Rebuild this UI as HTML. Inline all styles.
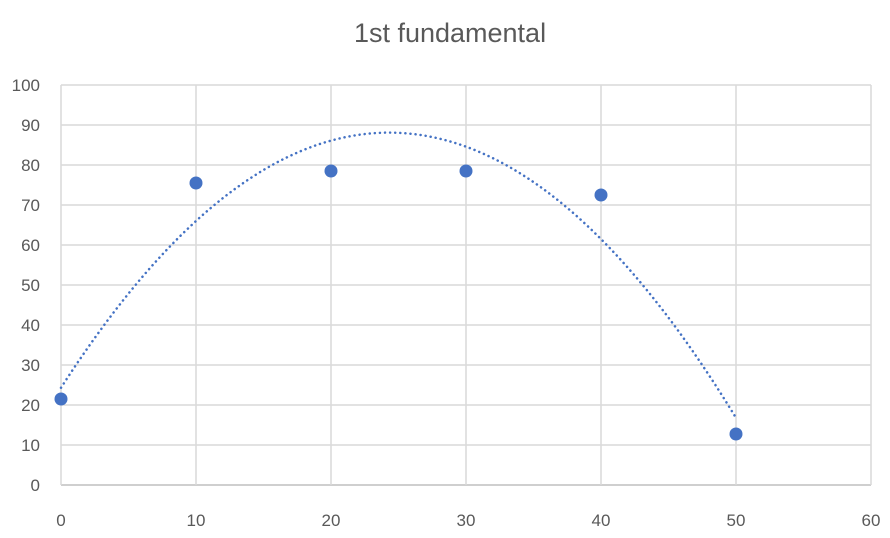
<!DOCTYPE html>
<html><head><meta charset="utf-8">
<style>
html,body{margin:0;padding:0;background:#fff;}
svg{display:block;font-family:"Liberation Sans",sans-serif;}
</style></head>
<body>
<svg id="chart" width="890" height="538" viewBox="0 0 890 538">
<text x="450" y="42" text-anchor="middle" font-size="27" fill="#595959">1st fundamental</text>
<g id="grid"></g>
<g id="marks"></g>
</svg>
<script>
const xValues = [0, 10, 20, 30, 40, 50];
const yValues = [21.5, 75.5, 78.5, 78.5, 72.5, 12.75];
const xTicks = [0, 10, 20, 30, 40, 50, 60];
const yTicks = [0, 10, 20, 30, 40, 50, 60, 70, 80, 90, 100];

const L = 61, R = 871, T = 85, B = 485;
const xMin = 0, xMax = 60, yMin = 0, yMax = 100;
const sx = v => L + (v - xMin) / (xMax - xMin) * (R - L);
const sy = v => B - (v - yMin) / (yMax - yMin) * (B - T);
const NS = "http://www.w3.org/2000/svg";
const grid = document.getElementById('grid');
const marks = document.getElementById('marks');
function mk(tag, attrs, parent) {
  const e = document.createElementNS(NS, tag);
  for (const k in attrs) e.setAttribute(k, attrs[k]);
  parent.appendChild(e);
  return e;
}
yTicks.forEach(t => {
  const ln = mk('line', {x1: L, x2: R, y1: sy(t), y2: sy(t), stroke: t === 0 ? '#bfbfbf' : '#d9d9d9', 'stroke-width': 1.5}, grid);
  
  
  const tx = mk('text', {x: 40, y: sy(t) + 6, 'text-anchor': 'end', 'font-size': 17, fill: '#595959'}, grid);
  tx.textContent = t;
  
  
});
xTicks.forEach(t => {
  const ln = mk('line', {x1: sx(t), x2: sx(t), y1: T, y2: B, stroke: '#d9d9d9', 'stroke-width': 1.5}, grid);
  
  
  const tx = mk('text', {x: sx(t), y: 526, 'text-anchor': 'middle', 'font-size': 17, fill: '#595959'}, grid);
  tx.textContent = t;
  
  
});
// quadratic least-squares trendline
function fitQuad(xs, ys) {
  let S = [0,0,0,0,0], Sy = [0,0,0];
  xs.forEach((x, i) => {
    for (let k = 0; k < 5; k++) S[k] += Math.pow(x, k);
    for (let k = 0; k < 3; k++) Sy[k] += ys[i] * Math.pow(x, k);
  });
  const M = [[S[0],S[1],S[2],Sy[0]],[S[1],S[2],S[3],Sy[1]],[S[2],S[3],S[4],Sy[2]]];
  for (let i = 0; i < 3; i++) {
    for (let j = i + 1; j < 3; j++) {
      const f = M[j][i] / M[i][i];
      for (let k = i; k < 4; k++) M[j][k] -= f * M[i][k];
    }
  }
  const c = [0,0,0];
  for (let i = 2; i >= 0; i--) {
    let s = M[i][3];
    for (let k = i + 1; k < 3; k++) s -= M[i][k] * c[k];
    c[i] = s / M[i][i];
  }
  return c;
}
const c = fitQuad(xValues, yValues);
const x0 = Math.min(...xValues), x1 = Math.max(...xValues);
let d = '';
for (let i = 0; i <= 200; i++) {
  const x = x0 + (x1 - x0) * i / 200;
  const y = c[0] + c[1] * x + c[2] * x * x;
  d += (i ? 'L' : 'M') + sx(x).toFixed(2) + ' ' + sy(y).toFixed(2);
}
const trend = mk('path', {d: d, fill: 'none', stroke: '#4472c4', 'stroke-width': 2.5, 'stroke-dasharray': '0.1 5', 'stroke-linecap': 'round'}, marks);


xValues.forEach((x, i) => {
  const p = mk('circle', {cx: sx(x), cy: sy(yValues[i]), r: 6.5, fill: '#4472c4'}, marks);
  
  
});
</script>
</body></html>
